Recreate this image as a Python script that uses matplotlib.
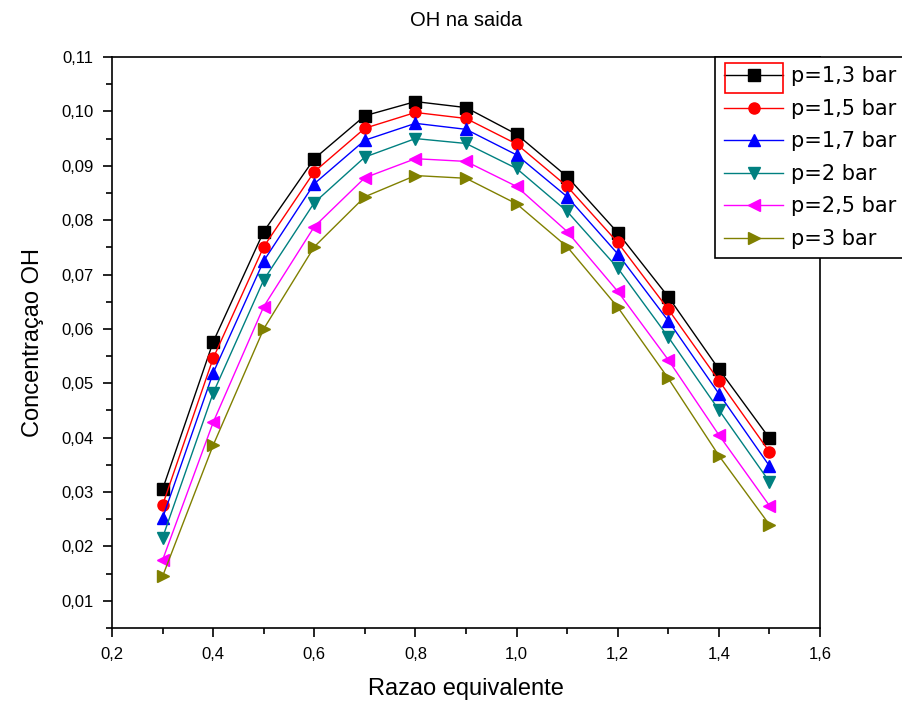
import matplotlib.pyplot as plt
import numpy as np
from matplotlib.ticker import MultipleLocator, FuncFormatter
from matplotlib.patches import Rectangle

plt.rcParams['font.family'] = ['Liberation Sans', 'DejaVu Sans']

# Dados
razao = [0.3, 0.4, 0.5, 0.6, 0.7, 0.8, 0.9, 1.0, 1.1, 1.2, 1.3, 1.4, 1.5]
oh_13 = [0.0305, 0.0576, 0.0779, 0.0913, 0.0992, 0.1018, 0.1007, 0.0958, 0.0880, 0.0777, 0.0659, 0.0526, 0.0399]
oh_15 = [0.0276, 0.0546, 0.0751, 0.0889, 0.0969, 0.0998, 0.0987, 0.0940, 0.0862, 0.0759, 0.0636, 0.0505, 0.0374]
oh_17 = [0.0252, 0.0519, 0.0725, 0.0867, 0.0947, 0.0978, 0.0967, 0.0920, 0.0843, 0.0738, 0.0615, 0.0481, 0.0348]
oh_20 = [0.0216, 0.0482, 0.0690, 0.0832, 0.0916, 0.0950, 0.0941, 0.0895, 0.0816, 0.0712, 0.0585, 0.0451, 0.0319]
oh_25 = [0.0175, 0.0428, 0.0641, 0.0788, 0.0878, 0.0913, 0.0908, 0.0862, 0.0779, 0.0669, 0.0543, 0.0405, 0.0275]
oh_30 = [0.0145, 0.0386, 0.0600, 0.0751, 0.0843, 0.0882, 0.0877, 0.0830, 0.0751, 0.0640, 0.0509, 0.0367, 0.0240]

series = [oh_13, oh_15, oh_17, oh_20, oh_25, oh_30]
rotulos = ['p=1,3 bar', 'p=1,5 bar', 'p=1,7 bar', 'p=2 bar', 'p=2,5 bar', 'p=3 bar']
cores = ['black', 'red', 'blue', '#008080', '#FF00FF', '#808000']
marcadores = ['s', 'o', '^', 'v', '<', '>']

fig = plt.figure(figsize=(9.02, 7.08), dpi=100)
ax = fig.add_axes([112/902, 1-628/708, 708/902, 571/708])

for y, lab, c, m in zip(series, rotulos, cores, marcadores):
    ax.plot(razao, y, color=c, marker=m, markersize=8, linewidth=1, label=lab)

ax.set_xlim(0.2, 1.6)
ax.set_ylim(0.005, 0.11)
ax.xaxis.set_major_locator(MultipleLocator(0.2))
ax.xaxis.set_minor_locator(MultipleLocator(0.1))
ax.yaxis.set_major_locator(MultipleLocator(0.01))
ax.yaxis.set_minor_locator(MultipleLocator(0.005))
ax.xaxis.set_major_formatter(FuncFormatter(lambda v, p: f'{v:.1f}'.replace('.', ',')))
ax.yaxis.set_major_formatter(FuncFormatter(lambda v, p: f'{v:.2f}'.replace('.', ',')))
ax.tick_params(which='both', direction='out', labelsize=12, width=1.2)
ax.tick_params(which='major', length=6.5, pad=7)
ax.tick_params(which='minor', length=4)
for s in ax.spines.values():
    s.set_linewidth(1.2)

ax.set_xlabel('Razao equivalente', fontsize=17, labelpad=12)
ax.set_ylabel('Concentraçao OH', fontsize=17, labelpad=12)
ax.set_title('OH na saida', fontsize=14.5, pad=22)

leg = ax.legend(loc='upper left', bbox_to_anchor=(715/902, 1-57/708), bbox_transform=fig.transFigure,
                prop={'family': 'DejaVu Sans', 'size': 15}, frameon=True, fancybox=False,
                edgecolor='black', framealpha=1, borderaxespad=0, handlelength=2.8,
                labelspacing=0.6, borderpad=0.45, handletextpad=0.4)
leg.get_frame().set_linewidth(1.2)

# Retangulo vermelho em volta do primeiro simbolo da legenda
fig.patches.append(Rectangle((725/902, 1-93/708), 58/902, 30/708, transform=fig.transFigure,
                             fill=False, edgecolor='red', linewidth=1.2, zorder=10))

fig.savefig('out.png', dpi=100)
